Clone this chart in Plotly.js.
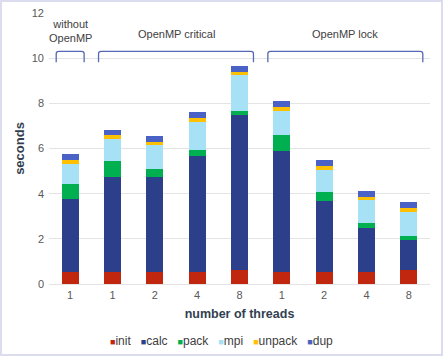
<!DOCTYPE html>
<html>
<head>
<meta charset="utf-8">
<script src="https://cdn.plot.ly/plotly-3.0.1.min.js"></script>
<style>
  body { margin: 0; background: #fff; }
  #wrap { position: relative; width: 443px; height: 356px; }
  #chart { width: 443px; height: 356px; }
  #frame { position: absolute; left: 0; top: 0; width: 443px; height: 356px;
           box-sizing: border-box; border: 2px solid #dcdcef; pointer-events: none; }
</style>
</head>
<body>
<div id="wrap">
  <div id="chart"></div>
  <div id="frame"></div>
</div>
<script>
// number of threads for each bar
const threads = ["1", "1", "2", "4", "8", "1", "2", "4", "8"];

// seconds spent per phase
const init   = [0.55, 0.55, 0.55, 0.55, 0.60, 0.55, 0.55, 0.55, 0.60];
const calc   = [3.21, 4.18, 4.17, 5.10, 6.90, 5.33, 3.12, 1.94, 1.34];
const pack   = [0.66, 0.70, 0.37, 0.27, 0.17, 0.71, 0.40, 0.23, 0.20];
const mpi    = [0.90, 0.97, 1.05, 1.27, 1.57, 1.07, 0.99, 0.98, 1.07];
const unpack = [0.18, 0.18, 0.14, 0.16, 0.13, 0.16, 0.15, 0.15, 0.15];
const dup    = [0.24, 0.25, 0.27, 0.26, 0.27, 0.27, 0.29, 0.25, 0.28];

const groupNames = ["without<br>OpenMP", "OpenMP critical", "OpenMP lock"];
const groupFirst = [0, 1, 5];
const groupLast  = [0, 4, 8];

const series = [
  { name: "init",   y: init,   color: "#c1270f" },
  { name: "calc",   y: calc,   color: "#2c3f8b" },
  { name: "pack",   y: pack,   color: "#00b050" },
  { name: "mpi",    y: mpi,    color: "#a6e1f6" },
  { name: "unpack", y: unpack, color: "#fec000" },
  { name: "dup",    y: dup,    color: "#4a62c6" }
];

const xs = threads.map((_, i) => i);
const font = "Liberation Sans, Arial, sans-serif";

const bars = series.map(s => ({
  type: "bar",
  x: xs,
  y: s.y,
  name: s.name,
  width: 0.4,
  marker: { color: s.color },
  hoverinfo: "name+y"
}));

// brackets above each group
const pad = 0.33;
const yTop = 10.3, yLeg = 9.82, r = 0.06;
const brackets = groupNames.map((_, g) => {
  const a = groupFirst[g] - pad, b = groupLast[g] + pad;
  return {
    type: "path",
    xref: "x", yref: "y",
    path: `M ${a},${yLeg} L ${a},${yTop - 0.1} Q ${a},${yTop} ${a + r},${yTop} ` +
          `L ${b - r},${yTop} Q ${b},${yTop} ${b},${yTop - 0.1} L ${b},${yLeg}`,
    line: { color: "#5468b6", width: 1.3 }
  };
});

const labels = groupNames.map((name, g) => ({
  x: (groupFirst[g] + groupLast[g]) / 2,
  y: g === 0 ? 11.2 : 11.05,
  xref: "x", yref: "y",
  text: name,
  showarrow: false,
  font: { family: font, size: 11, color: "#404040" }
}));

// compact legend line under the axis title
const legendText = series
  .map(s => `<span style="color:${s.color};font-size:9px">■</span>${s.name}`)
  .join("&nbsp;&nbsp;&nbsp;");
labels.push({
  x: 0.454, y: -0.209,
  xref: "paper", yref: "paper",
  xanchor: "center", yanchor: "middle",
  text: legendText,
  showarrow: false,
  font: { family: font, size: 12, color: "#404040" }
});

Plotly.newPlot("chart", bars, {
  width: 443,
  height: 356,
  barmode: "stack",
  showlegend: false,
  margin: { l: 49, r: 13, t: 13, b: 72 },
  paper_bgcolor: "#fff",
  plot_bgcolor: "#fff",
  font: { family: font, size: 11, color: "#595959" },
  xaxis: {
    range: [-0.5, 8.5],
    tickvals: xs,
    ticktext: threads,
    showgrid: false,
    zeroline: false,
    showline: false,
    ticks: "",
    ticklabelstandoff: 3,
    tickfont: { size: 11, color: "#595959" },
    title: { text: "<b>number of threads</b>", standoff: 9,
             font: { family: font, size: 12.5, color: "#333f50" } }
  },
  yaxis: {
    range: [0, 12],
    dtick: 2,
    showgrid: true,
    gridcolor: "#e4e4e4",
    gridwidth: 1,
    zeroline: true,
    zerolinecolor: "#e4e4e4",
    showline: false,
    ticks: "",
    ticklabelstandoff: 4,
    tickfont: { size: 11, color: "#595959" },
    title: { text: "<b>seconds</b>", standoff: 4,
             font: { family: font, size: 13, color: "#333f50" } }
  },
  shapes: brackets,
  annotations: labels
}, { staticPlot: true });
</script>
</body>
</html>
